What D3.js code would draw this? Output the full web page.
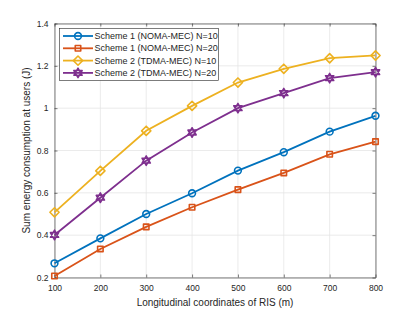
<!DOCTYPE html>
<html lang="en">
<head>
<meta charset="utf-8">
<title>Sum energy consumption vs RIS position</title>
<script src="https://cdn.jsdelivr.net/npm/d3@7"></script>
<style>
  body { margin: 0; background: #fff; }
  text { font-family: "Liberation Sans", Arial, sans-serif; fill: #262626; }
</style>
</head>
<body>
<script>
// data
var xs = [100, 200, 300, 400, 500, 600, 700, 800];
var noma10 = [0.267, 0.385, 0.500, 0.598, 0.705, 0.792, 0.889, 0.964];
var noma20 = [0.207, 0.335, 0.439, 0.532, 0.615, 0.694, 0.782, 0.842];
var tdma10 = [0.508, 0.704, 0.893, 1.011, 1.121, 1.186, 1.236, 1.249];
var tdma20 = [0.401, 0.577, 0.752, 0.885, 1.000, 1.071, 1.142, 1.170];
var xTicks = [100, 200, 300, 400, 500, 600, 700, 800];
var yTicks = [0.2, 0.4, 0.6, 0.8, 1, 1.2, 1.4];
var names = ["Scheme 1 (NOMA-MEC) N=10", "Scheme 1 (NOMA-MEC) N=20",
             "Scheme 2 (TDMA-MEC) N=10", "Scheme 2 (TDMA-MEC) N=20"];

var series = [
  {name: names[0], vals: noma10, color: "#0072BD", sym: "circle"},
  {name: names[1], vals: noma20, color: "#D95319", sym: "square"},
  {name: names[2], vals: tdma10, color: "#EDB120", sym: "diamond"},
  {name: names[3], vals: tdma20, color: "#7E2F8E", sym: "hexagram"}
];

var w = 415, h = 312;
// plot box edges (note: "top" is taken by window.top)
var pL = 54.5, pR = 375.5, pT = 23.5, pB = 277.5;

var svg = d3.select("body").append("svg")
  .attr("width", w).attr("height", h);

var x = d3.scaleLinear().domain([100, 800]).range([pL, pR]);
var y = d3.scaleLinear().domain([0.2, 1.4]).range([pB, pT]);

// grid
svg.append("g").selectAll("line").data(xTicks).enter().append("line")
  .attr("x1", d => x(d)).attr("x2", d => x(d))
  .attr("y1", pT).attr("y2", pB)
  .attr("stroke", "#e6e6e6").attr("stroke-width", 0.8);
svg.append("g").selectAll("line").data(yTicks).enter().append("line")
  .attr("x1", pL).attr("x2", pR)
  .attr("y1", d => y(d)).attr("y2", d => y(d))
  .attr("stroke", "#e6e6e6").attr("stroke-width", 0.8);

// axes, ticks pointing inward like MATLAB
var xAxis = d3.axisBottom(x).tickValues(xTicks).tickSizeInner(-3).tickSizeOuter(0).tickPadding(7);
var yAxis = d3.axisLeft(y).tickValues(yTicks).tickSizeInner(-3).tickSizeOuter(0).tickPadding(6)
  .tickFormat(d3.format("~g"));

var gx = svg.append("g").attr("transform", "translate(0," + pB + ")").call(xAxis);
var gy = svg.append("g").attr("transform", "translate(" + pL + ",0)").call(yAxis);
var gxTop = svg.append("g").attr("transform", "translate(0," + pT + ")")
  .call(d3.axisTop(x).tickValues(xTicks).tickSizeInner(-3).tickSizeOuter(0).tickFormat(""));
var gyRight = svg.append("g").attr("transform", "translate(" + pR + ",0)")
  .call(d3.axisRight(y).tickValues(yTicks).tickSizeInner(-3).tickSizeOuter(0).tickFormat(""));

[gx, gy, gxTop, gyRight].forEach(function(g) {
  g.selectAll("path, line").attr("stroke", "#262626").attr("stroke-width", 0.6);
  g.selectAll("text").style("font-size", "8.5px").attr("fill", "#262626")
    .style("font-family", "'Liberation Sans', Arial, sans-serif");
});

// axis labels
svg.append("text")
  .attr("x", (pL + pR) / 2).attr("y", 306)
  .attr("text-anchor", "middle").style("font-size", "10px")
  .text("Longitudinal coordinates of RIS (m)");
svg.append("text")
  .attr("transform", "translate(30," + ((pT + pB) / 2) + ") rotate(-90)")
  .attr("text-anchor", "middle").style("font-size", "10px")
  .text("Sum energy consumption at users (J)");

// marker shapes, MATLAB style (outline only)
function markerPath(sym) {
  if (sym === "circle") return d3.symbol().type(d3.symbolCircle).size(36)();
  if (sym === "square") return d3.symbol().type(d3.symbolSquare).size(30)();
  var p = d3.path(), r, k;
  if (sym === "diamond") {
    r = 4.6;
    p.moveTo(0, -r); p.lineTo(r, 0); p.lineTo(0, r); p.lineTo(-r, 0); p.closePath();
    return p.toString();
  }
  // hexagram: two overlapping triangles
  r = 4.8;
  for (k = 0; k < 2; k++) {
    var a0 = -Math.PI / 2 + k * Math.PI;
    p.moveTo(r * Math.cos(a0), r * Math.sin(a0));
    p.lineTo(r * Math.cos(a0 + 2 * Math.PI / 3), r * Math.sin(a0 + 2 * Math.PI / 3));
    p.lineTo(r * Math.cos(a0 + 4 * Math.PI / 3), r * Math.sin(a0 + 4 * Math.PI / 3));
    p.closePath();
  }
  return p.toString();
}

function marker(g, sym, color) {
  g.append("path").attr("d", markerPath(sym))
    .attr("fill", "none").attr("stroke", color)
    .attr("stroke-width", sym === "hexagram" ? 1.5 : 1.6)
    .attr("stroke-linejoin", "round");
}

var line = d3.line().x((d, i) => x(xs[i])).y(d => y(d));

series.forEach(function(s) {
  svg.append("path").datum(s.vals).attr("d", line)
    .attr("fill", "none").attr("stroke", s.color).attr("stroke-width", 1.8);
  s.vals.forEach(function(v, i) {
    var g = svg.append("g").attr("transform", "translate(" + x(xs[i]) + "," + y(v) + ")");
    marker(g, s.sym, s.color);
  });
});

// legend
var lg = svg.append("g");
lg.append("rect").attr("x", 59.5).attr("y", 28.5).attr("width", 159).attr("height", 52)
  .attr("fill", "#fff").attr("stroke", "#262626").attr("stroke-width", 0.6);
series.forEach(function(s, i) {
  var yy = 36 + i * 12.3;
  lg.append("line").attr("x1", 63).attr("x2", 93).attr("y1", yy).attr("y2", yy)
    .attr("stroke", s.color).attr("stroke-width", 1.8);
  var g = lg.append("g").attr("transform", "translate(78," + yy + ")");
  marker(g, s.sym, s.color);
  lg.append("text").attr("x", 94.5).attr("y", yy).attr("dy", "0.35em")
    .style("font-size", "9px").text(s.name);
});
</script>
</body>
</html>
